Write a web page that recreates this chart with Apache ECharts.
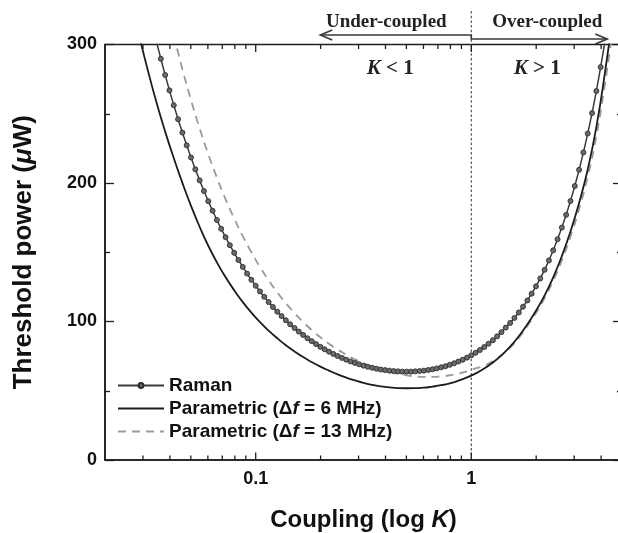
<!DOCTYPE html>
<html><head><meta charset="utf-8">
<script src="https://cdn.jsdelivr.net/npm/echarts@6/dist/echarts.min.js"></script>
<style>html,body{margin:0;padding:0;background:#fff}#c{width:618px;height:533px}</style>
</head><body><div id="c"></div>
<script>
// ---- data ----
const ramanK = [0.03467,0.03631,0.03802,0.03981,0.04169,0.04365,0.04571,0.04786,0.05012,0.05248,0.05495,0.05754,0.06026,0.06310,0.06607,0.06918,0.07244,0.07586,0.07943,0.08318,0.08710,0.09120,0.09550,
0.1000,0.1047,0.1096,0.1148,0.1202,0.1259,0.1318,0.1380,0.1445,0.1514,0.1585,0.1660,0.1738,0.1820,0.1905,0.1995,0.2089,0.2188,0.2291,0.2399,0.2512,0.2630,0.2754,0.2884,0.3020,0.3162,0.3311,0.3467,0.3631,0.3802,0.3981,0.4169,0.4365,0.4571,0.4786,0.5012,0.5248,0.5495,0.5754,0.6026,0.6310,0.6607,0.6918,0.7244,0.7586,0.7943,0.8318,0.8710,0.9120,0.9550,
1.000,1.047,1.096,1.148,1.202,1.259,1.318,1.380,1.445,1.514,1.585,1.660,1.738,1.820,1.905,1.995,2.089,2.188,2.291,2.399,2.512,2.630,2.754,2.884,3.020,3.162,3.311,3.467,3.631,3.802,3.981,4.169];
const ramanP = [301.9,289.7,278.0,266.9,256.2,246.1,236.4,227.2,218.4,209.9,201.9,194.2,186.9,180.0,173.3,166.9,160.9,155.1,149.6,144.4,139.4,134.6,130.1,
125.8,121.7,117.8,114.0,110.5,107.1,103.9,100.9,98.0,95.3,92.7,90.3,87.9,85.8,83.7,81.7,79.9,78.2,76.6,75.1,73.7,72.4,71.2,70.1,69.1,68.1,67.3,66.6,65.9,65.3,64.9,64.5,64.2,64.0,63.8,63.8,63.8,64.0,64.2,64.5,65.0,65.5,66.1,66.9,67.7,68.7,69.8,71.1,72.4,73.9,
75.6,77.4,79.4,81.6,84.0,86.5,89.3,92.3,95.6,99.0,102.6,106.5,110.7,115.2,120.1,125.4,131.1,137.3,144.1,151.4,159.4,167.8,177.0,187.0,197.8,209.5,222.1,235.7,250.5,266.4,283.7,302.4];

const param6K = [0.02884,0.03162,0.03467,0.03802,0.04169,0.04571,0.05012,0.05495,0.06026,0.06607,0.07244,0.07943,0.08710,0.09550,0.1047,0.1148,0.1259,0.1380,0.1514,0.1660,0.1820,0.1995,0.2188,0.2399,0.2630,0.2884,0.3162,0.3467,0.3802,0.4169,0.4571,0.5012,0.5495,0.6026,0.6607,0.7244,0.7943,0.8710,0.9550,1.047,1.148,1.259,1.380,1.514,1.660,1.820,1.995,2.188,2.399,2.630,2.884,3.162,3.467,3.802,4.169,4.571];
const param6P = [305.9,281.2,258.1,237.1,218.0,200.1,183.5,168.4,154.7,142.7,132.1,122.6,114.0,106.4,99.5,93.4,87.9,82.9,78.4,74.3,70.7,67.4,64.5,61.8,59.5,57.5,55.7,54.3,53.2,52.4,51.9,51.8,51.9,52.2,53.0,54.0,55.4,57.3,59.6,62.5,66.0,70.4,75.6,81.8,89.3,98.1,107.7,118.9,131.9,147.2,165.0,185.6,209.8,240.3,279.9,325.3];

const param13K = [0.04169,0.04571,0.05012,0.05495,0.06026,0.06607,0.07244,0.07943,0.08710,0.09550,0.1047,0.1148,0.1259,0.1380,0.1514,0.1660,0.1820,0.1995,0.2188,0.2399,0.2630,0.2884,0.3162,0.3467,0.3802,0.4169,0.4571,0.5012,0.5495,0.6026,0.6607,0.7244,0.7943,0.8710,0.9550,1.047,1.148,1.259,1.380,1.514,1.660,1.820,1.995,2.188,2.399,2.630,2.884,3.162,3.467,3.802,4.169,4.571];
const param13P = [306.8,282.2,259.8,239.4,220.8,203.9,188.4,174.4,161.6,150.0,139.4,129.8,121.1,113.2,106.1,99.6,93.8,88.6,83.9,79.7,76.0,72.7,69.8,67.3,65.2,63.5,62.1,61.1,60.4,60.0,60.0,60.4,61.2,62.4,64.0,66.1,68.0,71.5,75.8,81.2,88.2,96.8,106.1,116.9,129.4,144.1,161.2,181.1,204.5,233.8,271.6,314.8];

const seriesNames = ['Raman', 'Parametric (Δf = 6 MHz)', 'Parametric (Δf = 13 MHz)'];
const xTickLabels = ['0.1', '1'];
const xMajorTicks = [0.1, 1];
const xMinorTicks = [0.03,0.04,0.05,0.06,0.07,0.08,0.09,0.2,0.3,0.4,0.5,0.6,0.7,0.8,0.9,2,3,4];
const yTickLabels = ['0', '100', '200', '300'];
const couplingBoundary = [1];
const annotationText = ['Under-coupled', 'Over-coupled', 'K < 1', 'K > 1'];

// ---- chart ----
const SANS = '"Liberation Sans", Arial, sans-serif';
const SERIF = '"Liberation Serif", "Times New Roman", serif';
const INK = '#1e1e1e';
const pairs = (ks, ps) => ks.map((k, i) => [k, ps[i]]);
const xMin = 0.02, xMax = 5, yMax = 300;

function tickRenderer(len) {
  return function (params, api) {
    const x = api.coord([api.value(0), 0])[0];
    const cs = params.coordSys;
    const b = cs.y + cs.height;
    const st = { stroke: INK, lineWidth: 1.3 };
    return { type: 'group', children: [
      { type: 'line', shape: { x1: x, y1: b, x2: x, y2: b - len }, style: st },
      { type: 'line', shape: { x1: x, y1: cs.y, x2: x, y2: cs.y + len }, style: st }
    ]};
  };
}

function annotationRenderer(params, api) {
  const x1 = api.coord([api.value(0), 0])[0];
  const cs = params.coordSys;
  const top = cs.y, bottom = cs.y + cs.height;
  const ink = '#383838';
  const yL = top - 9.5, yR = top - 5.5;
  const tipL = x1 - 151, tipR = x1 + 136;
  const arrowStyle = { stroke: ink, lineWidth: 1.6, fill: null };
  const serifTxt = (txt, x, y) => ({ type: 'text', x: x, y: y, style: {
    text: txt, fontFamily: SERIF, fontWeight: 'bold', fontSize: 19, fill: '#222',
    align: 'center', verticalAlign: 'middle' } });
  const kTxt = (rest, x, y) => ({ type: 'text', x: x, y: y, style: {
    text: '{i|K}{n|' + rest + '}', align: 'center', verticalAlign: 'middle', fill: '#222',
    rich: {
      i: { fontFamily: SERIF, fontWeight: 'bold', fontStyle: 'italic', fontSize: 21, fill: '#222' },
      n: { fontFamily: SERIF, fontWeight: 'bold', fontSize: 21, fill: '#222' }
    } } });
  return { type: 'group', children: [
    { type: 'line', shape: { x1: x1, y1: bottom, x2: x1, y2: 9 },
      style: { stroke: '#555', lineWidth: 1.2, lineDash: [2.5, 2.2] } },
    { type: 'polyline', shape: { points: [[tipL, yL], [x1, yL], [x1, yR], [tipR, yR]] }, style: arrowStyle },
    { type: 'polyline', shape: { points: [[tipL + 12, yL - 5], [tipL, yL], [tipL + 12, yL + 5]] }, style: arrowStyle },
    { type: 'polyline', shape: { points: [[tipR - 12, yR - 5], [tipR, yR], [tipR - 12, yR + 5]] }, style: arrowStyle },
    serifTxt(annotationText[0], x1 - 85, top - 22.5),
    serifTxt(annotationText[1], x1 + 76, top - 22.5),
    kTxt(annotationText[2].slice(1), x1 - 81, top + 24),
    kTxt(annotationText[3].slice(1), x1 + 66, top + 24)
  ]};
}

const legendRich = {
  b: { fontFamily: SANS, fontWeight: 'bold', fontSize: 19, color: '#111' },
  i: { fontFamily: SANS, fontWeight: 'bold', fontStyle: 'italic', fontSize: 19, color: '#111' }
};

const chart = echarts.init(document.getElementById('c'), null, { renderer: 'canvas' });
chart.setOption({
  animation: false,
  backgroundColor: '#fff',
  grid: { left: 105, top: 44.5, width: 517, height: 415.5, containLabel: false, outerBoundsMode: 'none',
    show: true, borderColor: INK, borderWidth: 1.6, backgroundColor: 'transparent' },
  legend: {
    data: [
      { name: seriesNames[0] },
      { name: seriesNames[1], itemStyle: { opacity: 0 } },
      { name: seriesNames[2], itemStyle: { opacity: 0 } }
    ],
    orient: 'vertical', left: 112, top: 371,
    itemWidth: 46, itemHeight: 6, itemGap: 4,
    formatter: function (name) {
      const m = name.match(/^Parametric \(Δf = (.*)\)$/);
      if (!m) return '{b|' + name + '}';
      return '{b|Parametric (Δ}{i|f}{b| = ' + m[1] + ')}';
    },
    textStyle: { rich: legendRich, fontFamily: SANS, fontWeight: 'bold', fontSize: 19, color: '#111' }
  },
  xAxis: {
    type: 'log', min: xMin, max: xMax, position: 'bottom',
    name: '{b|Coupling (log }{i|K}{b|)}', nameLocation: 'middle', nameGap: 48,
    nameTextStyle: { rich: {
      b: { fontFamily: SANS, fontWeight: 'bold', fontSize: 24, color: '#111' },
      i: { fontFamily: SANS, fontWeight: 'bold', fontStyle: 'italic', fontSize: 24, color: '#111' } } },
    axisLine: { show: true, lineStyle: { color: INK, width: 1.6 } },
    axisTick: { show: false },
    splitLine: { show: false }, minorTick: { show: false },
    axisLabel: {
      margin: 10, fontFamily: SANS, fontWeight: 'bold', fontSize: 18, color: '#111',
      showMinLabel: false, showMaxLabel: false,
      formatter: function (v) {
        const t = xTickLabels.find(s => Math.abs(Math.log10(Number(s)) - Math.log10(v)) < 1e-6);
        return t || '';
      }
    }
  },
  yAxis: [{
    type: 'value', min: 0, max: yMax, interval: 100, position: 'left',
    name: '{b|Threshold power (}{i|μ}{b|W)}', nameLocation: 'middle', nameGap: 68, nameRotate: 90,
    nameTextStyle: { rich: {
      b: { fontFamily: SANS, fontWeight: 'bold', fontSize: 26, color: '#111' },
      i: { fontFamily: SANS, fontWeight: 'bold', fontStyle: 'italic', fontSize: 26, color: '#111' } } },
    axisLine: { show: true, onZero: false, lineStyle: { color: INK, width: 1.6 } },
    axisTick: { show: true, inside: true, length: 9, lineStyle: { color: INK, width: 1.3 } },
    minorTick: { show: true, splitNumber: 2, length: 5, lineStyle: { color: INK, width: 1.3 } },
    splitLine: { show: false }, minorSplitLine: { show: false },
    axisLabel: {
      margin: 8, fontFamily: SANS, fontWeight: 'bold', fontSize: 18, color: '#111',
      formatter: v => yTickLabels.find(s => Number(s) === v) || ''
    }
  }, {
    type: 'value', min: 0, max: yMax, interval: 100, position: 'right',
    axisLine: { show: true, onZero: false, lineStyle: { color: INK, width: 1.6 } },
    axisTick: { show: true, inside: true, length: 9, lineStyle: { color: INK, width: 1.3 } },
    minorTick: { show: true, splitNumber: 2, length: 5, lineStyle: { color: INK, width: 1.3 } },
    splitLine: { show: false }, axisLabel: { show: false }
  }],
  series: [
    { type: 'custom', name: 'boundary', xAxisIndex: 0, yAxisIndex: 0, clip: false, silent: true, z: 1,
      data: couplingBoundary.map(k => [k, 0]), renderItem: annotationRenderer },
    { type: 'custom', name: 'majorTicks', xAxisIndex: 0, yAxisIndex: 0, silent: true, z: 1,
      data: xMajorTicks.map(k => [k, 0]), renderItem: tickRenderer(7.5) },
    { type: 'custom', name: 'minorTicks', xAxisIndex: 0, yAxisIndex: 0, silent: true, z: 1,
      data: xMinorTicks.map(k => [k, 0]), renderItem: tickRenderer(4.5) },
    { type: 'line', name: seriesNames[2], data: pairs(param13K, param13P), showSymbol: false, symbol: 'none',
      smooth: true, z: 3,
      lineStyle: { color: '#9a9a9a', width: 1.8, type: [8, 6] }, itemStyle: { color: '#9a9a9a' } },
    { type: 'line', name: seriesNames[1], data: pairs(param6K, param6P), showSymbol: false, symbol: 'none',
      smooth: true, z: 4,
      lineStyle: { color: '#1c1c1c', width: 1.8 }, itemStyle: { color: '#1c1c1c' } },
    { type: 'line', name: seriesNames[0], data: pairs(ramanK, ramanP), symbol: 'circle', symbolSize: 5,
      showSymbol: true, showAllSymbol: true, z: 5,
      lineStyle: { color: '#3a3a3a', width: 1.5 },
      itemStyle: { color: '#6a6a6a', borderColor: '#2e2e2e', borderWidth: 0.9 } }
  ]
});
</script>
</body></html>
